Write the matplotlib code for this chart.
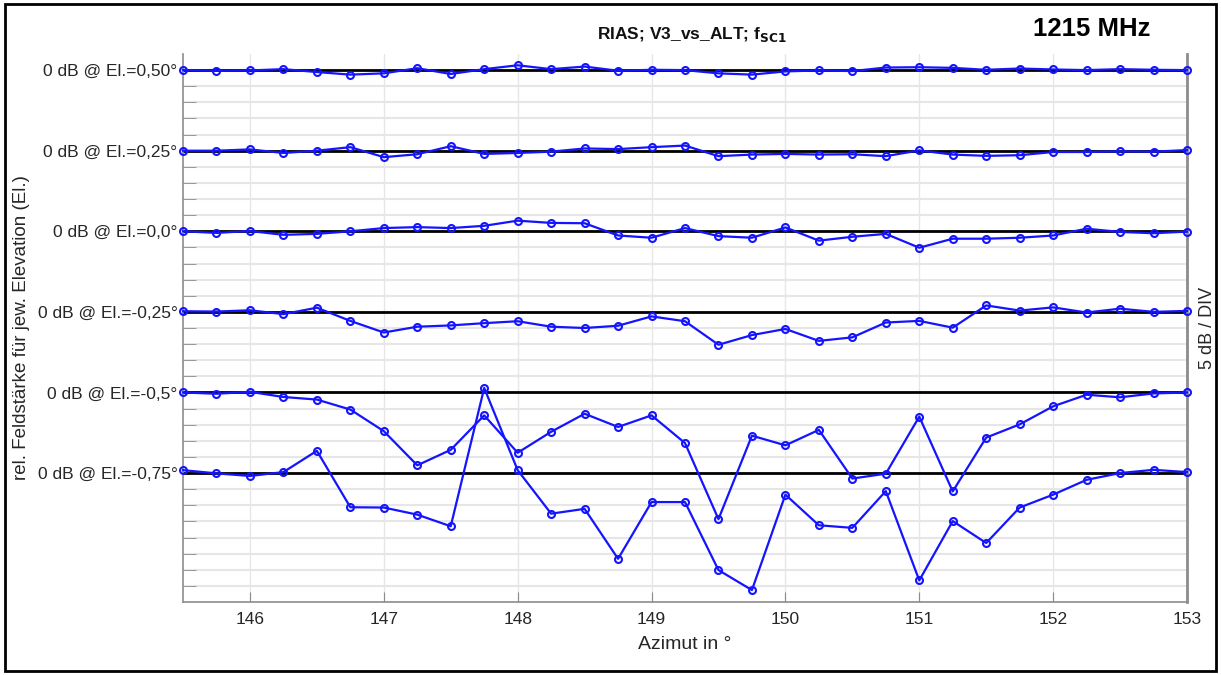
import matplotlib
matplotlib.use('Agg')
import matplotlib.pyplot as plt
from matplotlib.patches import Rectangle
import numpy as np

plt.rcParams['font.family'] = ['Liberation Sans', 'DejaVu Sans']

# azimuth in degrees, 0.25 deg steps
azimut = np.arange(145.5, 153.01, 0.25)

# relative field strength in dB per elevation (0 dB = own baseline)
el_050 = [0, -0.2, -0.1, 0.3, -0.6, -1.4, -1.0, 0.6, -1.2, 0.3, 1.5, 0.3, 1.1, -0.2, 0.1, 0,
          -1.0, -1.4, -0.4, -0.1, -0.3, 0.8, 0.9, 0.7, 0.1, 0.5, 0.2, 0, 0.3, 0.1, 0]
el_025 = [0, 0, 0.4, -0.7, 0, 1.1, -2.0, -1.1, 1.4, -1.0, -0.7, -0.3, 0.7, 0.5, 1.1, 1.6,
          -1.7, -1.2, -1.0, -1.2, -1.1, -1.7, 0.1, -1.2, -1.6, -1.4, -0.4, -0.4, -0.2, -0.3, 0.2]
el_000 = [0, -0.5, 0.1, -1.1, -0.8, 0, 1.0, 1.3, 1.0, 1.7, 3.3, 2.6, 2.5, -1.3, -2.0, 1.0,
          -1.5, -2.0, 1.2, -2.9, -1.7, -0.8, -5.1, -2.3, -2.3, -2.0, -1.3, 0.8, -0.2, -0.6, -0.1]
el_m025 = [0.2, 0.1, 0.5, -0.7, 1.3, -2.8, -6.4, -4.6, -4.2, -3.5, -2.9, -4.6, -5.0, -4.3, -1.4, -2.9,
           -10.2, -7.2, -5.3, -9.0, -7.9, -3.3, -2.8, -4.9, 2.0, 0.4, 1.4, -0.2, 1.0, 0, 0.3]
el_m050 = [0, -0.4, 0.2, -1.4, -2.2, -5.3, -12.0, -22.6, -17.8, -7.1, -18.7, -12.2, -6.6, -10.7, -7.1, -15.7,
           -39.3, -13.4, -16.4, -11.6, -26.7, -25.2, -7.5, -30.7, -14.0, -9.9, -4.3, -0.7, -1.5, -0.3, 0]
el_m075 = [0.9, -0.1, -0.9, 0.3, 6.9, -10.6, -10.7, -12.9, -16.5, 26.4, 0.9, -12.6, -11.1, -26.6, -9.0, -9.0,
           -30.1, -36.3, -6.7, -16.2, -17.0, -5.6, -33.3, -14.9, -21.7, -10.7, -6.7, -2.1, 0, 1.0, 0.3]

series = [el_050, el_025, el_000, el_m025, el_m050, el_m075]
labels = ['0 dB @ El.=0,50°', '0 dB @ El.=0,25°', '0 dB @ El.=0,0°',
          '0 dB @ El.=-0,25°', '0 dB @ El.=-0,5°', '0 dB @ El.=-0,75°']
offsets = [0, -25, -50, -75, -100, -125]   # 5 DIV between elevations, 5 dB / DIV

fig = plt.figure(figsize=(12.21, 6.75), dpi=100)
ax = fig.add_axes([183 / 1221, 1 - 602 / 675, 1004 / 1221, 548 / 675])

txt = '#262626'
grey = '#8c8c8c'

for y in np.arange(-160, 5, 5):
    ax.axhline(y, color='#e6e6e6', lw=1.5, zorder=0)
for x in range(146, 154):
    ax.axvline(x, color='#e6e6e6', lw=1.0, zorder=0)

for off in offsets:
    ax.axhline(off, color='black', lw=2, zorder=2)

for vals, off in zip(series, offsets):
    ax.plot(azimut, np.array(vals) + off, '-o', color='#1414ff', lw=1.6, ms=5,
            mfc='none', mew=1.5, zorder=3, clip_on=False)

ax.set_xlim(145.5, 153)
ax.set_ylim(-165, 5)
ax.set_xticks(range(146, 154))
ax.set_yticks(offsets)
ax.set_yticklabels(labels)
ax.set_yticks(np.arange(-160, 5, 5), minor=True)
ax.tick_params(axis='both', which='both', direction='in', color=grey, labelcolor=txt)
ax.tick_params(axis='y', which='both', length=9, labelsize=12.5, pad=4)
ax.tick_params(axis='x', length=7, labelsize=12.5, pad=7)

for side in ['left', 'bottom', 'right']:
    ax.spines[side].set_color(grey)
    ax.spines[side].set_linewidth(1.2)
ax.spines['right'].set_linewidth(2)
ax.spines['top'].set_visible(False)

ax.set_xlabel('Azimut in °', fontsize=14, color=txt)
ax.xaxis.set_label_coords(0.5, -0.062)
ax.set_ylabel('rel. Feldstärke für jew. Elevation (El.)', fontsize=13.5, color=txt)
ax.yaxis.set_label_coords(-0.152, 0.5)

fig.text(1208 / 1221, 1 - 328 / 675, '5 dB / DIV', rotation=90, ha='center', va='center',
         fontsize=13, color=txt)
fig.text(692 / 1221, 1 - 34 / 675, r'RIAS; V3_vs_ALT; f$_{\mathbf{SC1}}$', ha='center', va='center',
         fontsize=12.5, fontweight='bold', color='#111111')
fig.text(1092 / 1221, 1 - 29 / 675, '1215 MHz', ha='center', va='center',
         fontsize=18.5, fontweight='bold', color='black')

fig.patches.append(Rectangle((5 / 1221, 4 / 675), 1211 / 1221, 667 / 675, transform=fig.transFigure,
                             fill=False, edgecolor='black', lw=2))

fig.savefig('out.png', dpi=100)
